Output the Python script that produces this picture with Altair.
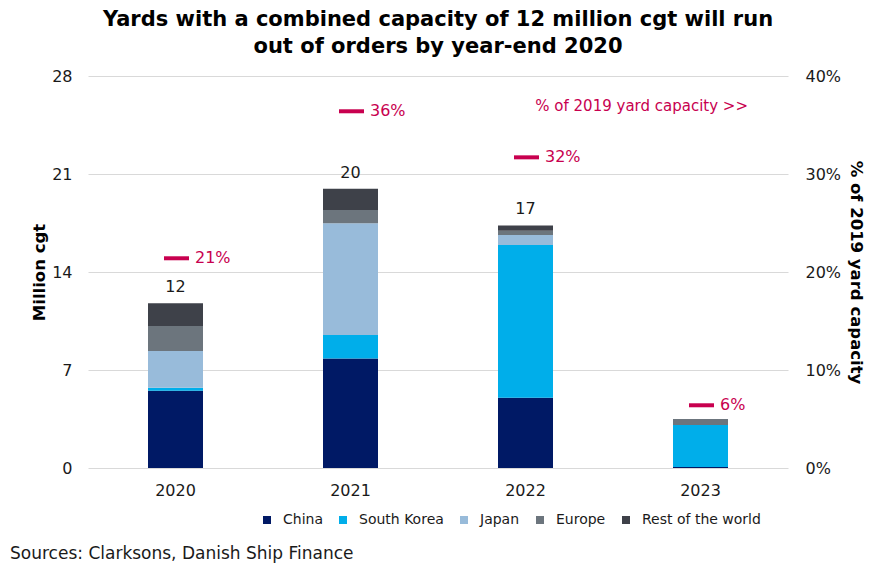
import altair as alt
import pandas as pd

years = ["2020", "2021", "2022", "2023"]
series = ["China", "South Korea", "Japan", "Europe", "Rest of the world"]
colors = ["#001965", "#00AEEA", "#98BBDA", "#6C757D", "#3E4149"]

china = [5.52, 7.83, 5.02, 0.08]
south_korea = [0.22, 1.67, 10.91, 2.99]
japan = [2.62, 7.98, 0.71, 0.0]
europe = [1.78, 0.95, 0.31, 0.43]
rest = [1.62, 1.52, 0.38, 0.0]
total_labels = ["12", "20", "17", ""]
pct = [21.4, 36.4, 31.7, 6.4]

rows = []
for i, yr in enumerate(years):
    for j, (s, vals) in enumerate(zip(series, [china, south_korea, japan, europe, rest])):
        rows.append({"year": yr, "series": s, "value": vals[i], "order": j})
df = pd.DataFrame(rows)

tops = pd.DataFrame({
    "year": years,
    "total": [china[i] + south_korea[i] + japan[i] + europe[i] + rest[i] for i in range(4)],
    "label": total_labels,
    "pct": [p / 100 for p in pct],
    "pct_label": [f"{round(p)}%" for p in pct],
})

FONT = "DejaVu Sans"
PINK = "#C8004F"
W, H = 700, 392

x_enc = alt.X("year:N", scale=alt.Scale(paddingInner=0, paddingOuter=0),
              axis=alt.Axis(title=None, labelAngle=0, ticks=False, domain=False,
                            labelPadding=14, labelFontSize=16, labelColor="#1a1a1a"))

ydom = alt.Scale(domain=[0, 28])
left_axis = alt.Axis(values=[0, 7, 14, 21, 28], title="Million cgt", orient="left",
                     ticks=False, domain=False, grid=True, gridColor="#D9D9D9",
                     labelFontSize=16, labelPadding=16, labelColor="#1a1a1a",
                     titleFontSize=16.5, titleFontWeight="bold", titlePadding=4,
                     titleColor="black")

bars = alt.Chart(df).mark_bar(size=55).encode(
    x=x_enc,
    y=alt.Y("value:Q", stack="zero", scale=ydom, axis=left_axis),
    color=alt.Color("series:N", scale=alt.Scale(domain=series, range=colors),
                    legend=alt.Legend(orient="none", legendX=172, legendY=437,
                                      direction="horizontal", columns=5, title=None,
                                      symbolType="square", symbolSize=64,
                                      symbolStrokeWidth=0, labelFontSize=14,
                                      labelColor="#1a1a1a", columnPadding=13,
                                      labelOffset=9)),
    order=alt.Order("order:Q"),
)

totals = alt.Chart(tops).mark_text(dy=-16, fontSize=16, color="#1a1a1a").encode(
    x=alt.X("year:N"),
    y=alt.Y("total:Q", scale=ydom, axis=left_axis),
    text="label:N",
)

annot = pd.DataFrame({"t": ["% of 2019 yard capacity >>"]})
annot_text = alt.Chart(annot).mark_text(align="right", baseline="middle", fontSize=15,
                                        color=PINK).encode(
    x=alt.value(660), y=alt.value(30), text="t:N")

src = pd.DataFrame({"t": ["Sources: Clarksons, Danish Ship Finance"]})
src_text = alt.Chart(src).mark_text(align="left", baseline="middle", fontSize=17,
                                    color="#1a1a1a").encode(
    x=alt.value(-78), y=alt.value(478), text="t:N")

left = alt.layer(bars, totals, annot_text, src_text)

pscale = alt.Scale(domain=[0, 0.4])
right_axis = alt.Axis(orient="right", format=".0%", values=[0, 0.1, 0.2, 0.3, 0.4],
                      title="% of 2019 yard capacity", grid=False, ticks=False,
                      domain=False, labelFontSize=16, labelPadding=17,
                      labelColor="#1a1a1a", titleFontSize=16.5, titleFontWeight="bold",
                      titlePadding=7, titleColor="black")
ticks = alt.Chart(tops).mark_tick(size=25, thickness=4, color=PINK, xOffset=1,
                                  opacity=1).encode(
    x=alt.X("year:N"),
    y=alt.Y("pct:Q", scale=pscale, axis=right_axis),
)
pct_text = alt.Chart(tops).mark_text(align="left", baseline="middle", dx=19.5,
                                     fontSize=16, color=PINK).encode(
    x=alt.X("year:N"),
    y=alt.Y("pct:Q", scale=pscale, axis=right_axis),
    text="pct_label:N",
)
right = alt.layer(ticks, pct_text)

chart = alt.layer(left, right).resolve_scale(y="independent").properties(
    width=W, height=H,
    padding={"left": 88, "top": 76, "right": 87, "bottom": 95},
    autosize=alt.AutoSizeParams(type="none"),
    title=alt.Title(["Yards with a combined capacity of 12 million cgt will run",
                     "out of orders by year-end 2020"],
                    fontSize=21, fontWeight="bold", anchor="middle", offset=11,
                    color="black", lineHeight=27, font=FONT),
).configure(font=FONT).configure_view(stroke=None)

chart.save("out.html", embed_options={"renderer": "svg", "actions": False})
